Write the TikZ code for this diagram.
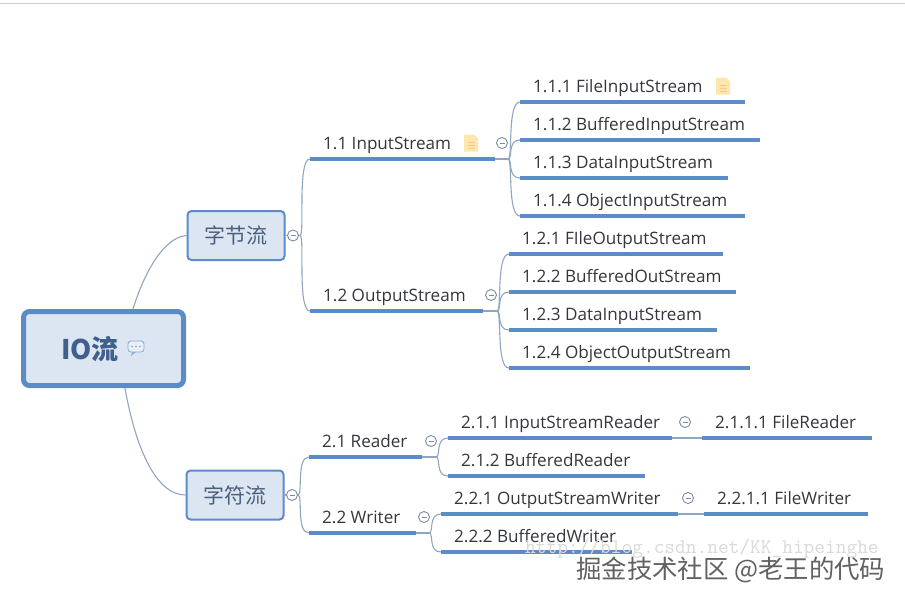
\documentclass[tikz,border=0pt]{standalone}
\usepackage{fontspec}
\setmainfont{Open Sans}
\newfontfamily\cjk{Noto Sans CJK SC}
\definecolor{topicblue}{HTML}{5B8CC8}
\definecolor{fillblue}{HTML}{DCE6F3}
\definecolor{curvegrey}{HTML}{8FA6C2}
\definecolor{inktext}{HTML}{33373D}
\definecolor{rootink}{HTML}{3F5F8C}
\definecolor{bytetext}{HTML}{4A5F7D}
\tikzset{x=1pt,y=-1pt,
  rootbox/.style={draw=topicblue,fill=fillblue,line width=5pt,rounded corners=6pt,inner sep=0pt},
  subbox/.style={draw=topicblue,fill=fillblue,line width=2pt,rounded corners=4pt,inner sep=0pt},
  leaftext/.style={anchor=base west,inner sep=0pt,text=inktext,font=\fontsize{17.1}{19}\selectfont},
  uline/.style={draw=topicblue,line width=3.2pt},
  link/.style={draw=curvegrey,line width=1.1pt},
  fold/.style={circle,draw=curvegrey!85!black,fill=white,line width=0.9pt,minimum size=11pt,inner sep=0pt,
     path picture={\draw[curvegrey!85!black,line width=0.9pt] ([xshift=-2.5pt]path picture bounding box.center)--([xshift=2.5pt]path picture bounding box.center);}},
}
\newcommand{\leafitem}[5]{% name, x1, x2, y, text
  \coordinate (#1-a) at (#2,#4);
  \coordinate (#1-b) at (#3,#4);
  \node[leaftext] (#1) at (#2+13,#4-9.5) {#5};
  \draw[uline] (#1-a) -- (#1-b);
}
\newcommand{\branch}[2]{% from, to
  \draw[link] (#1) .. controls ($(#1)+(5,0)$) and ($(#2)+(-13,0)$) .. (#2);
}
\newcommand{\docicon}[2]{% centre
  \begin{scope}[shift={(#1,#2)}]
    \fill[yellow!45!orange!30!white] (-7,-8.5) -- (3,-8.5) -- (7,-4.5) -- (7,8.5) -- (-7,8.5) -- cycle;
    \draw[orange!45!white,line width=0.7pt] (-3.5,-1) -- (3.5,-1) (-3.5,2) -- (3.5,2) (-3.5,5) -- (3.5,5);
  \end{scope}
}
\usetikzlibrary{calc}
\begin{document}
\begin{tikzpicture}
\useasboundingbox (0,0) rectangle (905,603);
\fill[white] (0,0) rectangle (905,603);
\draw[black!20,line width=0.8pt] (0,3) -- (905,3);

% main boxes
\node[rootbox,minimum width=160pt,minimum height=74pt] (root) at (103.5,348.5) {};
\node[anchor=base,inner sep=0pt,text=rootink,font=\cjk\bfseries\fontsize{27}{30}\selectfont] (rootlabel) at (90,359) {IO流};
\node[subbox,minimum width=97pt,minimum height=49pt] (byte) at (236,235.5) {};
\node[inner sep=0pt,text=bytetext,font=\cjk\fontsize{21}{24}\selectfont] (bytelabel) at (236,235) {字节流};
\node[subbox,minimum width=97pt,minimum height=49pt] (char) at (235,495) {};
\node[inner sep=0pt,text=bytetext,font=\cjk\fontsize{21}{24}\selectfont] (charlabel) at (235,495) {字符流};

% chat icon
\begin{scope}[shift={(136,347)}]
  \draw[topicblue!70!white,fill=fillblue!60!white,line width=0.9pt,rounded corners=3pt] (-8,-6) rectangle (8,5);
  \fill[topicblue!70!white] (-4,5) -- (-5,9) -- (0,5) -- cycle;
  \fill[topicblue!80!white] (-4,-0.5) circle (0.8) (0,-0.5) circle (0.8) (4,-0.5) circle (0.8);
\end{scope}

% leaves
\leafitem{a}{310}{495}{159}{1.1 InputStream}
\leafitem{aa}{520}{745}{102}{1.1.1 FileInputStream}
\leafitem{ab}{520}{760}{140}{1.1.2 BufferedInputStream}
\leafitem{ac}{520}{728}{178}{1.1.3 DataInputStream}
\leafitem{ad}{520}{745}{216}{1.1.4 ObjectInputStream}
\leafitem{b}{310}{483}{311}{1.2 OutputStream}
\leafitem{ba}{509}{723}{254}{1.2.1 FIleOutputStream}
\leafitem{bb}{509}{736}{292}{1.2.2 BufferedOutStream}
\leafitem{bc}{509}{717}{330}{1.2.3 DataInputStream}
\leafitem{bd}{509}{750}{368}{1.2.4 ObjectOutputStream}
\leafitem{c}{309}{422}{457}{2.1 Reader}
\leafitem{ca}{448}{672}{438}{2.1.1 InputStreamReader}
\leafitem{caa}{702}{872}{438}{2.1.1.1 FileReader}
\leafitem{cb}{448}{645}{476}{2.1.2 BufferedReader}
\leafitem{d}{309}{416}{533}{2.2 Writer}
\leafitem{da}{441}{678}{514}{2.2.1 OutputStreamWriter}
\leafitem{daa}{704}{868}{514}{2.2.1.1 FileWriter}
\leafitem{db}{441}{632}{552}{2.2.2 BufferedWriter}

% doc icons
\docicon{723}{86}
\docicon{471}{143}

% connectors
\draw[link] (byte.west) .. controls (165,237) and (145,270) .. (root.north west -| 133,310);
\draw[link] (root.south west -| 125,387) .. controls (135,445) and (155,495) .. (char.west);
\draw[link] (byte.east) -- (300,235.5);
\draw[link] (char.east) -- (298,495);
\coordinate (jbyte) at (300,235.5);
\coordinate (jchar) at (298,495);
\coordinate (ja) at (508,159);
\coordinate (jb) at (497,311);
\coordinate (jc) at (436,457);
\coordinate (jd) at (429,533);
\branch{jbyte}{a-a}\branch{jbyte}{b-a}
\branch{jchar}{c-a}\branch{jchar}{d-a}
\draw[link] (a-b) -- (ja); \draw[link] (b-b) -- (jb);
\draw[link] (c-b) -- (jc); \draw[link] (d-b) -- (jd);
\branch{ja}{aa-a}\branch{ja}{ab-a}\branch{ja}{ac-a}\branch{ja}{ad-a}
\branch{jb}{ba-a}\branch{jb}{bb-a}\branch{jb}{bc-a}\branch{jb}{bd-a}
\branch{jc}{ca-a}\branch{jc}{cb-a}
\branch{jd}{da-a}\branch{jd}{db-a}
\draw[link] (ca-b) -- (caa-a);
\draw[link] (da-b) -- (daa-a);

% fold markers
\node[fold] (f1) at (293,235.5) {};
\node[fold] (f2) at (292,495) {};
\node[fold] (f3) at (502,143) {};
\node[fold] (f4) at (491,295) {};
\node[fold] (f5) at (431,441) {};
\node[fold] (f6) at (424,517) {};
\node[fold] (f7) at (685,422) {};
\node[fold] (f8) at (688,498) {};

% watermarks
\node[anchor=base west,inner sep=0pt,text=black!15,font=\ttfamily\fontsize{20.8}{23}\selectfont] (wmurl) at (525,553) {http://blog.csdn.net/KK\_hipeinghe};
\node[anchor=base west,inner sep=0pt,text=black!62,font=\cjk\fontsize{25.4}{28}\selectfont] (wmtext) at (576,578) {掘金技术社区 @老王的代码};
\end{tikzpicture}
\end{document}
